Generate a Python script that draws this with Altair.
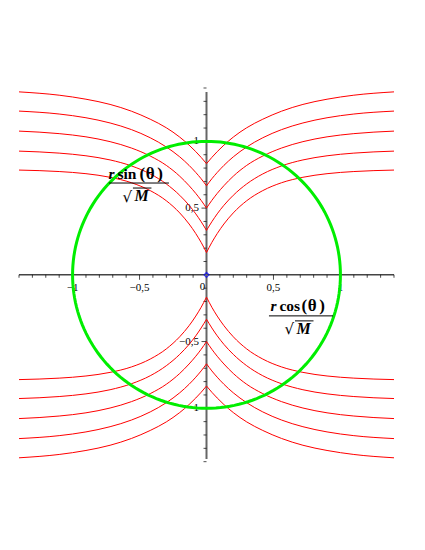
import altair as alt
import numpy as np
import pandas as pd

# ---------------- data ----------------
X_DOMAIN = [-1.4, 1.4]
Y_DOMAIN = [-1.38, 1.37]

# red curves (first quadrant half, mirrored to the other quadrants)
curve_x = [0.0, 0.04, 0.08, 0.13, 0.2, 0.3, 0.42, 0.56, 0.72, 0.9, 1.1, 1.4]
curve_1 = [0.167, 0.243, 0.309, 0.381, 0.464, 0.555, 0.631, 0.690, 0.731, 0.758, 0.774, 0.785]
curve_2 = [0.333, 0.398, 0.457, 0.521, 0.596, 0.681, 0.756, 0.816, 0.861, 0.892, 0.912, 0.927]
curve_3 = [0.5, 0.558, 0.610, 0.668, 0.739, 0.820, 0.890, 0.950, 0.998, 1.034, 1.058, 1.077]
curve_4 = [0.667, 0.720, 0.767, 0.820, 0.884, 0.958, 1.027, 1.088, 1.138, 1.177, 1.205, 1.227]
curve_5 = [0.833, 0.880, 0.923, 0.972, 1.032, 1.102, 1.166, 1.226, 1.277, 1.316, 1.346, 1.371]
curves = [curve_1, curve_2, curve_3, curve_4, curve_5]

# green unit circle
circle_radius = 1.0
circle_angles_deg = list(range(0, 361, 2))

# axes ticks and labels
minor_ticks = [-1.4, -1.3, -1.2, -1.1, -0.9, -0.8, -0.7, -0.6, -0.4, -0.3, -0.2, -0.1,
               0.1, 0.2, 0.3, 0.4, 0.6, 0.7, 0.8, 0.9, 1.1, 1.2, 1.3, 1.4]
major_ticks = [-1.0, -0.5, 0.5, 1.0]
x_label_values = [-1.0, -0.5, 0.5, 1.0]
x_label_texts = ["\u22121", "\u22120,5", "0,5", "1"]
y_label_values = [1.0, 0.5, -0.5, -1.0]
y_label_texts = ["1", "0,5", "\u22120,5", "\u22121"]

# ---------------- tables ----------------
rows = []
for k, cy in enumerate(curves):
    for sx in (1, -1):
        for sy in (1, -1):
            for xv, yv in zip(curve_x, cy):
                rows.append({"id": f"c{k}_{sx}_{sy}", "x": sx * xv, "y": sy * yv})
red_df = pd.DataFrame(rows)

ang = np.radians(circle_angles_deg)
circle_df = pd.DataFrame({"i": range(len(ang)),
                          "x": circle_radius * np.cos(ang),
                          "y": circle_radius * np.sin(ang)})

xs = alt.Scale(domain=X_DOMAIN, nice=False, zero=False)
ys = alt.Scale(domain=Y_DOMAIN, nice=False, zero=False)
X = lambda f="x": alt.X(f"{f}:Q", scale=xs, axis=None)
Y = lambda f="y": alt.Y(f"{f}:Q", scale=ys, axis=None)

FONT = "Liberation Serif"

# axes lines
x_axis = alt.Chart(pd.DataFrame({"x": [X_DOMAIN[0]], "x2": [X_DOMAIN[1]], "y": [0.0]})).mark_rule(
    color="#444444", strokeWidth=1.5).encode(x=X(), x2="x2:Q", y=Y())
y_axis = alt.Chart(pd.DataFrame({"y": [Y_DOMAIN[0]], "y2": [Y_DOMAIN[1]], "x": [0.0]})).mark_rule(
    color="#666666", strokeWidth=2).encode(y=Y(), y2="y2:Q", x=X())

tick_df_minor = pd.DataFrame({"v": minor_ticks, "z": 0.0})
tick_df_major = pd.DataFrame({"v": major_ticks, "z": 0.0})
xt_minor = alt.Chart(tick_df_minor).mark_tick(orient="vertical", size=3, thickness=1, yOffset=1.5,
                                              color="black").encode(x=X("v"), y=Y("z"))
xt_major = alt.Chart(tick_df_major).mark_tick(orient="vertical", size=5, thickness=1, yOffset=2.5,
                                              color="black").encode(x=X("v"), y=Y("z"))
yt_minor = alt.Chart(tick_df_minor).mark_tick(orient="horizontal", size=3, thickness=1, xOffset=-1.5,
                                              color="black").encode(y=Y("v"), x=X("z"))
yt_major = alt.Chart(tick_df_major).mark_tick(orient="horizontal", size=5, thickness=1, xOffset=-2.5,
                                              color="black").encode(y=Y("v"), x=X("z"))

xl = alt.Chart(pd.DataFrame({"x": x_label_values, "y": 0.0, "t": x_label_texts})).mark_text(
    font=FONT, fontSize=11, dy=13, baseline="middle", align="center", color="black").encode(
    x=X(), y=Y(), text="t:N")
zero_l = alt.Chart(pd.DataFrame({"x": [0.0], "y": [0.0], "t": ["0"]})).mark_text(
    font=FONT, fontSize=11, dy=12, dx=-4, baseline="middle", align="center", color="black").encode(
    x=X(), y=Y(), text="t:N")
yl = alt.Chart(pd.DataFrame({"y": y_label_values, "x": 0.0, "t": y_label_texts})).mark_text(
    font=FONT, fontSize=11, dx=-7.5, baseline="middle", align="right", color="black").encode(
    x=X(), y=Y(), text="t:N")

red = alt.Chart(red_df).mark_line(color="#ff0000", strokeWidth=1, interpolate="monotone").encode(
    x=X(), y=Y(), detail="id:N", order="x:Q")
green = alt.Chart(circle_df).mark_line(color="#00ee00", strokeWidth=3).encode(
    x=X(), y=Y(), order="i:Q")
origin = alt.Chart(pd.DataFrame({"x": [0.0], "y": [0.0]})).mark_point(
    shape="diamond", filled=False, color="#0000ff", size=25, strokeWidth=1.2).encode(x=X(), y=Y())


def fraction(cx, cy, fn, half_w):
    """Maple-style fraction label:  r fn(θ) / sqrt(M)  anchored at the fraction bar centre."""
    px = 1 / 133.8
    py = 1 / 133.3
    pt = pd.DataFrame({"x": [cx], "y": [cy]})
    layers = [alt.Chart(pd.DataFrame({"x": [cx - half_w * px], "x2": [cx + half_w * px], "y": [cy]})).mark_rule(
        color="black", strokeWidth=1).encode(x=X(), x2="x2:Q", y=Y())]
    pieces = [("r", -30.5, "italic", 15.5), (fn, -21.5, "normal", 15.5),
              ("(", 0.5, "normal", 17), ("\u03b8", 6.8, "normal", 17), (")", 18.3, "normal", 17)]
    for txt, dx, style, size in pieces:
        layers.append(alt.Chart(pt).mark_text(
            text=txt, font=FONT, fontSize=size, fontWeight="bold", fontStyle=style,
            align="left", baseline="alphabetic", dx=dx, dy=-4.5, color="black").encode(x=X(), y=Y()))
    layers.append(alt.Chart(pt).mark_text(
        text="\u221a", font="DejaVu Sans", fontSize=15, align="left", baseline="alphabetic",
        dx=-16.5, dy=18.5, color="black").encode(x=X(), y=Y()))
    layers.append(alt.Chart(pt).mark_text(
        text="M", font=FONT, fontSize=16, fontWeight="bold", fontStyle="italic",
        align="left", baseline="alphabetic", dx=-4.5, dy=18, color="black").encode(x=X(), y=Y()))
    layers.append(alt.Chart(pd.DataFrame({"x": [cx - 6 * px], "x2": [cx + 12.5 * px], "y": [cy - 5 * py]})).mark_rule(
        color="black", strokeWidth=1).encode(x=X(), x2="x2:Q", y=Y()))
    return layers


ylab = fraction((139 - 206.5) / 133.8, (275 - 183.3) / 133.3, "sin", 30)
xlab = fraction((300.9 - 206.5) / 133.8, (275 - 316) / 133.3, "cos", 32)

chart = alt.layer(
    x_axis, y_axis, xt_minor, xt_major, yt_minor, yt_major, xl, zero_l, yl,
    red, green, origin, *ylab, *xlab
).properties(
    width=375, height=367,
    autosize=alt.AutoSizeParams(type="none"),
    padding={"left": 11, "top": 84, "right": 5, "bottom": 5},
).configure_view(stroke=None)

chart.save("out.html", embed_options={"renderer": "svg", "actions": False})
